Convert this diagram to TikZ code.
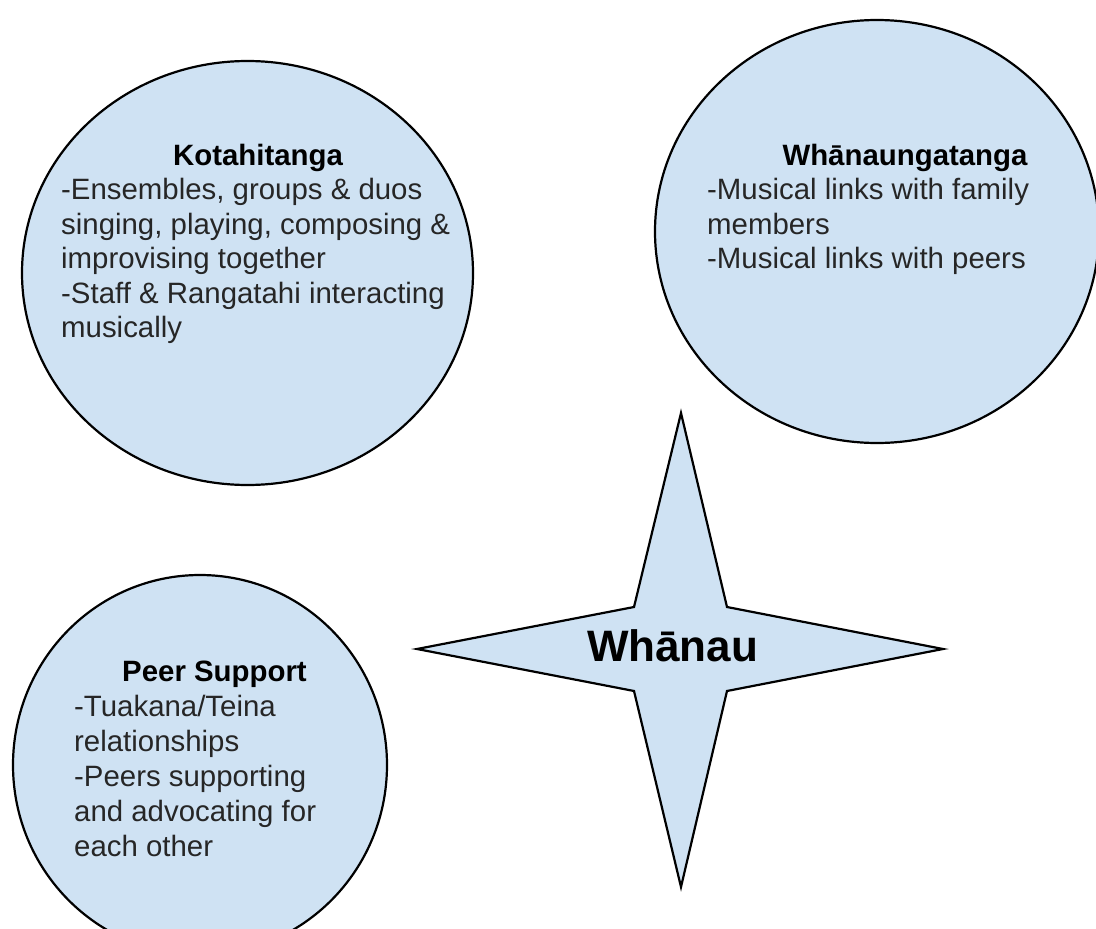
\documentclass[tikz,border=0pt]{standalone}
\usepackage{fontspec}
\setmainfont{Liberation Sans}
\definecolor{shapefill}{HTML}{CFE2F3}
\tikzset{
  shapestyle/.style={draw=black, fill=shapefill, line width=2.2pt, line join=miter},
  bodytext/.style={anchor=base west, inner sep=0pt, font=\fontsize{29.4}{34.5}\selectfont, text=black!85},
  titletext/.style={anchor=base, inner sep=0pt, font=\fontsize{29.4}{34.5}\selectfont\bfseries, text=black},
  startext/.style={anchor=base, inner sep=0pt, font=\fontsize{44}{50}\selectfont\bfseries, text=black}
}
\begin{document}
\begin{tikzpicture}[x=1pt,y=-1pt]
\useasboundingbox (0,0) rectangle (1096,929);
\begin{scope}
\clip (0,0) rectangle (1096,929);
% Kotahitanga
\draw[shapestyle] (247.5,273) ellipse [x radius=225.5, y radius=212];
% Whanaungatanga
\draw[shapestyle] (877,231.5) ellipse [x radius=222, y radius=211.5];
% Peer Support
\draw[shapestyle] (200,765) ellipse [x radius=187, y radius=190];
% Star
\draw[shapestyle] (681,413) -- (727,607) -- (943,649) -- (727,691) -- (681,887) -- (634,691) -- (417,649) -- (634,607) -- cycle;
\end{scope}

\node[titletext] (kt) at (258,165) {Kotahitanga};
\node[bodytext] (k1) at (61,199.5) {-Ensembles, groups \& duos};
\node[bodytext] (k2) at (61,234) {singing, playing, composing \&};
\node[bodytext] (k3) at (61,268.5) {improvising together};
\node[bodytext] (k4) at (61,303) {-Staff \& Rangatahi interacting};
\node[bodytext] (k5) at (61,337.5) {musically};

\node[titletext] (wt) at (905,165) {Whānaungatanga};
\node[bodytext] (w1) at (707,199.5) {-Musical links with family};
\node[bodytext] (w2) at (707,234) {members};
\node[bodytext] (w3) at (707,268.5) {-Musical links with peers};

\node[titletext] (pt) at (214.5,681) {Peer Support};
\node[bodytext] (p1) at (74,716) {-Tuakana/Teina};
\node[bodytext] (p2) at (74,751) {relationships};
\node[bodytext] (p3) at (74,786) {-Peers supporting};
\node[bodytext] (p4) at (74,821) {and advocating for};
\node[bodytext] (p5) at (74,856) {each other};

\node[startext] (st) at (672.6,661.5) {Whānau};
\end{tikzpicture}
\end{document}
